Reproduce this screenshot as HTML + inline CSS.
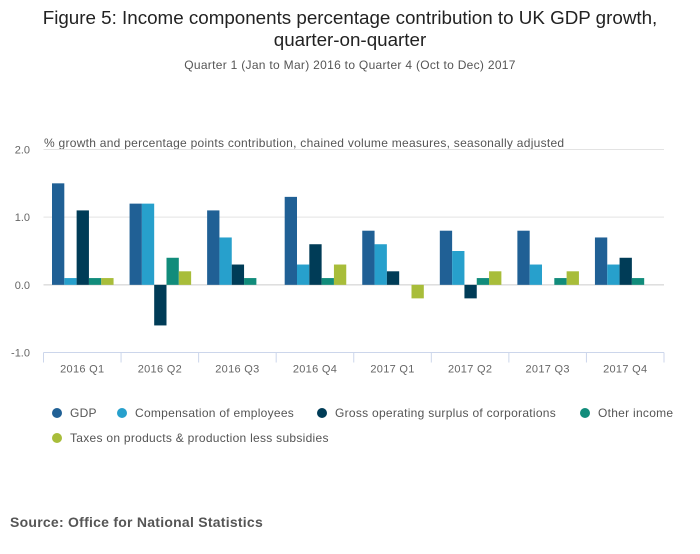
<!DOCTYPE html>
<html><head><meta charset="utf-8"><style>
body{margin:0;background:#fff;font-family:"Liberation Sans",sans-serif;}
svg text{font-family:"Liberation Sans",sans-serif;}
</style></head><body>
<svg width="700" height="549" xmlns="http://www.w3.org/2000/svg" id="c">
<text x="350" y="24" text-anchor="middle" font-size="18.8" fill="#222">Figure 5: Income components percentage contribution to UK GDP growth,</text>
<text x="350" y="46" text-anchor="middle" font-size="18.8" fill="#222">quarter-on-quarter</text>
<text x="350" y="69" text-anchor="middle" font-size="12" letter-spacing="0.3" fill="#555">Quarter 1 (Jan to Mar) 2016 to Quarter 4 (Oct to Dec) 2017</text>
<text x="44" y="147" font-size="12" letter-spacing="0.27" fill="#555">% growth and percentage points contribution, chained volume measures, seasonally adjusted</text>
<g id="grid"></g><g id="bars"></g><g id="xaxis"></g><g id="legend"></g>
<text x="10" y="527" font-size="14" letter-spacing="0.25" font-weight="bold" fill="#555">Source: Office for National Statistics</text>
</svg>
<script>
const categories=["2016 Q1","2016 Q2","2016 Q3","2016 Q4","2017 Q1","2017 Q2","2017 Q3","2017 Q4"];
const seriesNames=["GDP","Compensation of employees","Gross operating surplus of corporations","Other income","Taxes on products & production less subsidies"];
const gdp=[1.5,1.2,1.1,1.3,0.8,0.8,0.8,0.7];
const compensation=[0.1,1.2,0.7,0.3,0.6,0.5,0.3,0.3];
const gos=[1.1,-0.6,0.3,0.6,0.2,-0.2,0,0.4];
const otherIncome=[0.1,0.4,0.1,0.1,0,0.1,0.1,0.1];
const taxes=[0.1,0.2,0,0.3,-0.2,0.2,0.2,0];
const yTicks=[2.0,1.0,0.0,-1.0];
const colors=["#206095","#27a0cc","#003c57","#118c7b","#a8bd3a"];
const series=[gdp,compensation,gos,otherIncome,taxes];
const NS="http://www.w3.org/2000/svg";
const x0=43.5,x1=664,yTop=149.5,yBot=352.5,vMax=2,vMin=-1;
const y=v=>yTop+(vMax-v)/(vMax-vMin)*(yBot-yTop);
const gw=(x1-x0)/categories.length;
function mk(t,a,p){const e=document.createElementNS(NS,t);for(const k in a)e.setAttribute(k,a[k]);p.appendChild(e);return e;}
const grid=document.getElementById('grid');
yTicks.forEach(t=>{
 if(t!==vMin){const l=mk('line',{x1:x0,x2:x1,y1:y(t),y2:y(t),stroke:t===0?'#ccc':'#e3e3e3'},grid);
 }
 const tx=mk('text',{x:30,y:y(t)+4,'text-anchor':'end','font-size':11,fill:'#666'},grid);tx.textContent=t.toFixed(1);
 
});
const bars=document.getElementById('bars');
const bw=(gw-16)/5;
categories.forEach((c,i)=>{
 series.forEach((s,j)=>{
  const v=s[i];const bx=x0+i*gw+8.5+j*bw;
  const r=mk('rect',{x:bx,y:Math.min(y(v),y(0)),width:bw,height:Math.abs(y(v)-y(0)),fill:colors[j]},bars);
  
 });
});
const xa=document.getElementById('xaxis');
const al=mk('line',{x1:x0,x2:x1,y1:yBot,y2:yBot,stroke:'#ccd6eb'},xa);

categories.forEach((c,i)=>{
 const tl=mk('line',{x1:x0+i*gw,x2:x0+i*gw,y1:yBot,y2:yBot+10,stroke:'#ccd6eb'},xa);
 
 const t=mk('text',{x:x0+(i+0.5)*gw,y:yBot+20,'text-anchor':'middle','font-size':11,'letter-spacing':0.3,fill:'#666'},xa);t.textContent=c;
 
});
const last=mk('line',{x1:x1,x2:x1,y1:yBot,y2:yBot+10,stroke:'#ccd6eb'},xa);

const lg=document.getElementById('legend');
const lpos=[[57,417],[122,417],[322,417],[585,417],[57,442]];
seriesNames.forEach((n,j)=>{
 const g=mk('g',{},lg);
 
 mk('circle',{cx:lpos[j][0],cy:lpos[j][1]-4,r:5,fill:colors[j]},g);
 const t=mk('text',{x:lpos[j][0]+13,y:lpos[j][1],'font-size':12,'letter-spacing':0.28,fill:'#555'},g);t.textContent=n;
});
</script>
</body></html>
